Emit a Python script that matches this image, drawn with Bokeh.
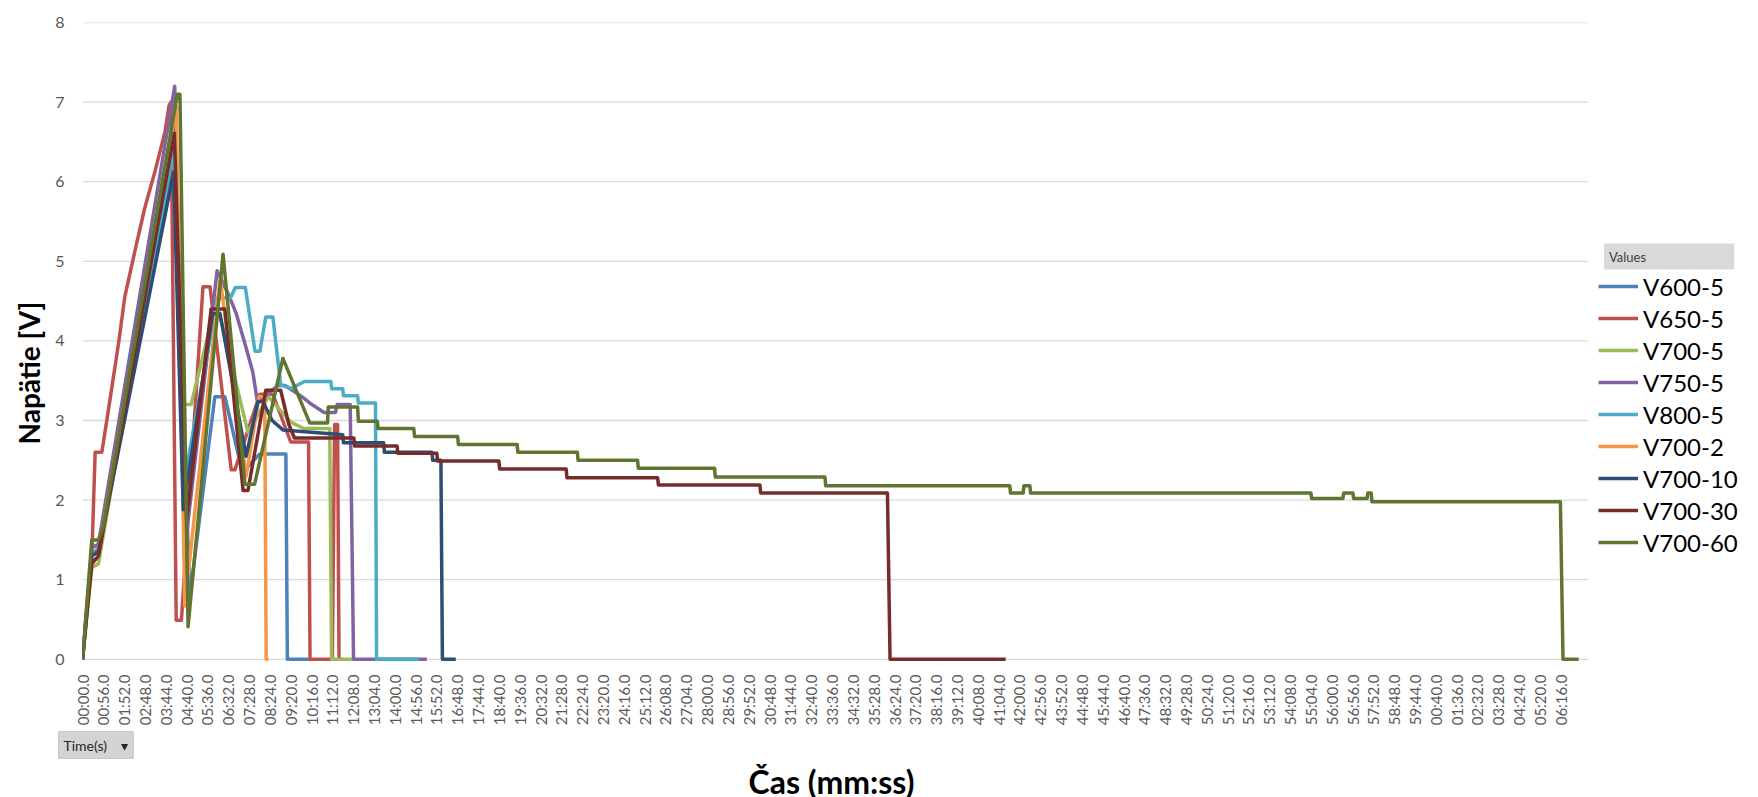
from bokeh.plotting import figure
from bokeh.models import Range1d, FixedTicker, Legend, LegendItem, Label, Title
from bokeh.embed import file_html
from bokeh.resources import INLINE

FONT = "Lato"

# ---------------- data (time in seconds, voltage in V) ----------------
series_names = ["V600-5", "V650-5", "V700-5", "V750-5", "V800-5",
                "V700-2", "V700-10", "V700-30", "V700-60"]
series_colors = ["#4F81BD", "#C0504D", "#9BBB59", "#8064A2", "#4BACC6",
                 "#F79646", "#2C4D75", "#772C2A", "#5F7530"]

t_v600_5 = [0, 25, 43, 245, 289, 356, 383, 430, 477, 547, 551, 612]
v_v600_5 = [0, 1.3, 1.4, 6.3, 0.8, 3.3, 3.3, 2.35, 2.58, 2.58, 0, 0]

t_v650_5 = [0, 25, 34, 52, 70, 97, 114, 141, 168, 195, 222, 233, 238, 252, 266,
            324, 343, 400, 410, 477, 512, 560, 608, 612, 672, 678, 686, 690, 700]
v_v650_5 = [0, 1.27, 2.6, 2.6, 3.14, 3.97, 4.56, 5.13, 5.68, 6.13, 6.63, 6.96, 7.0, 0.49, 0.49,
            4.68, 4.68, 2.38, 2.38, 3.33, 3.33, 2.73, 2.73, 0, 0, 2.95, 2.95, 0, 0]

t_v700_5 = [0, 25, 43, 250, 266, 292, 360, 445, 500, 560, 595, 665, 670, 729]
v_v700_5 = [0, 1.15, 1.2, 6.9, 3.2, 3.2, 4.5, 2.85, 3.3, 2.98, 2.9, 2.9, 0, 0]

t_v750_5 = [0, 25, 43, 248, 278, 362, 392, 413, 439, 458, 470, 490, 525, 545,
            590, 617, 650, 680, 685, 720, 729, 926]
v_v750_5 = [0, 1.4, 1.45, 7.2, 1.5, 4.88, 4.59, 4.35, 3.93, 3.61, 3.25, 3.3, 3.44, 3.44,
            3.3, 3.2, 3.1, 3.1, 3.2, 3.2, 0, 0]

t_v800_5 = [0, 25, 43, 245, 276, 363, 398, 411, 438, 464, 477, 493, 512, 533, 560,
            597, 668, 670, 700, 702, 740, 742, 788, 791, 904]
v_v800_5 = [0, 1.3, 1.35, 6.4, 2.3, 4.54, 4.54, 4.67, 4.67, 3.87, 3.87, 4.3, 4.3, 3.45, 3.4,
            3.49, 3.49, 3.4, 3.4, 3.31, 3.31, 3.22, 3.22, 0, 0]

t_v700_2 = [0, 25, 43, 252, 275, 370, 440, 475, 490, 494, 500]
v_v700_2 = [0, 1.3, 1.35, 6.95, 0.67, 4.79, 2.3, 3.3, 3.3, 0, 0]

t_v700_10 = [0, 25, 43, 245, 271, 350, 370, 440, 472, 485, 510, 540, 700, 702,
             810, 812, 940, 942, 964, 968, 1004]
v_v700_10 = [0, 1.3, 1.35, 6.12, 1.88, 4.34, 4.34, 2.55, 3.24, 3.24, 3.0, 2.88, 2.82, 2.72,
             2.72, 2.6, 2.6, 2.5, 2.5, 0, 0]

t_v700_30 = [0, 25, 43, 247, 280, 346, 383, 432, 445, 493, 533, 555, 570, 730, 732,
             846, 848, 953, 955, 1120, 1122, 1301, 1303, 1547, 1549, 1822, 1824,
             2165, 2172, 2483]
v_v700_30 = [0, 1.2, 1.3, 6.61, 1.75, 4.40, 4.40, 2.12, 2.12, 3.38, 3.38, 2.95, 2.78, 2.78, 2.68,
             2.68, 2.59, 2.59, 2.49, 2.49, 2.39, 2.39, 2.28, 2.28, 2.19, 2.19, 2.09,
             2.09, 0, 0]

t_v700_60 = [0, 25, 43, 55, 255, 262, 284, 378, 437, 463, 539, 611, 659, 661, 740, 742,
             793, 795, 891, 893, 1009, 1011, 1169, 1171, 1331, 1333, 1493, 1495,
             1700, 1702, 1997, 1999, 2494, 2496, 2530, 2532, 2548, 2550,
             3304, 3306, 3390, 3392, 3417, 3419, 3455, 3457, 3466, 3468,
             3975, 3982, 4024]
v_v700_60 = [0, 1.5, 1.5, 1.65, 7.1, 7.1, 0.41, 5.09, 2.2, 2.2, 3.78, 2.97, 2.97, 3.17, 3.17, 2.99,
             2.99, 2.9, 2.9, 2.8, 2.8, 2.7, 2.7, 2.6, 2.6, 2.5, 2.5, 2.4,
             2.4, 2.29, 2.29, 2.18, 2.18, 2.09, 2.09, 2.18, 2.18, 2.09,
             2.09, 2.02, 2.02, 2.09, 2.09, 2.02, 2.02, 2.09, 2.09, 1.98,
             1.98, 0, 0]

series_t = [t_v600_5, t_v650_5, t_v700_5, t_v750_5, t_v800_5,
            t_v700_2, t_v700_10, t_v700_30, t_v700_60]
series_v = [v_v600_5, v_v650_5, v_v700_5, v_v750_5, v_v800_5,
            v_v700_2, v_v700_10, v_v700_30, v_v700_60]

tick_step_s = 56
tick_labels = [
    "00:00.0", "00:56.0", "01:52.0", "02:48.0", "03:44.0", "04:40.0", "05:36.0", "06:32.0",
    "07:28.0", "08:24.0", "09:20.0", "10:16.0", "11:12.0", "12:08.0", "13:04.0", "14:00.0",
    "14:56.0", "15:52.0", "16:48.0", "17:44.0", "18:40.0", "19:36.0", "20:32.0", "21:28.0",
    "22:24.0", "23:20.0", "24:16.0", "25:12.0", "26:08.0", "27:04.0", "28:00.0", "28:56.0",
    "29:52.0", "30:48.0", "31:44.0", "32:40.0", "33:36.0", "34:32.0", "35:28.0", "36:24.0",
    "37:20.0", "38:16.0", "39:12.0", "40:08.0", "41:04.0", "42:00.0", "42:56.0", "43:52.0",
    "44:48.0", "45:44.0", "46:40.0", "47:36.0", "48:32.0", "49:28.0", "50:24.0", "51:20.0",
    "52:16.0", "53:12.0", "54:08.0", "55:04.0", "56:00.0", "56:56.0", "57:52.0", "58:48.0",
    "59:44.0", "00:40.0", "01:36.0", "02:32.0", "03:28.0", "04:24.0", "05:20.0", "06:16.0",
]
y_ticks = [0, 1, 2, 3, 4, 5, 6, 7, 8]

# ---------------- figure ----------------
PX_PER_S = 0.3718                 # plot-area scale
GRID_END = 4048                   # gridlines stop here (legend sits to the right)
FRAME_W = 1660
X_END = FRAME_W / PX_PER_S
FRAME_H = 640
Y0, Y1 = -0.04, 8.0

p = figure(output_backend="svg", toolbar_location=None,
           frame_width=FRAME_W, frame_height=FRAME_H,
           min_border_left=82, min_border_right=0, min_border_top=22, min_border_bottom=0,
           x_range=Range1d(0, X_END), y_range=Range1d(Y0, Y1),
           background_fill_color="white", border_fill_color="white")
p.outline_line_color = None
p.xgrid.grid_line_color = None
p.ygrid.grid_line_color = None

# horizontal gridlines at the y ticks, ending at the plot's right edge
p.segment(x0=[0] * len(y_ticks), y0=y_ticks, x1=[GRID_END] * len(y_ticks), y1=y_ticks,
          line_color="#D9D9D9", line_width=1.3)

tick_pos = [i * tick_step_s for i in range(len(tick_labels))]
p.xaxis.ticker = FixedTicker(ticks=tick_pos)
p.xaxis.major_label_overrides = {tp: lab for tp, lab in zip(tick_pos, tick_labels)}
p.xaxis.major_label_orientation = 1.5707963
p.yaxis.ticker = FixedTicker(ticks=y_ticks)

for ax in (p.xaxis[0], p.yaxis[0]):
    ax.axis_line_color = None
    ax.major_tick_line_color = None
    ax.minor_tick_line_color = None
    ax.major_label_text_color = "#595959"
    ax.major_label_text_font = FONT

p.xaxis.major_label_text_font_size = "15px"
p.yaxis.major_label_text_font_size = "16px"
p.xaxis.major_label_standoff = 6
p.yaxis.major_label_standoff = 12

items = []
for name, col, ts, vs in zip(series_names, series_colors, series_t, series_v):
    r = p.line(ts, vs, line_color=col, line_width=3.5, line_join="round")
    items.append(LegendItem(label=name, renderers=[r]))

legend = Legend(items=items, location=(1516, 104), orientation="vertical",
                label_text_font=FONT, label_text_font_size="24px", label_text_color="#000000",
                label_height=32, glyph_height=32, glyph_width=40, spacing=0,
                padding=0, margin=0, label_standoff=5,
                border_line_color=None, background_fill_alpha=0)
p.add_layout(legend)

values_lbl = Label(x=4092, y=5.06, text="Values" + "\u00a0" * 25,
                   text_font=FONT, text_font_size="13px", text_color="#3F3F3F",
                   text_baseline="middle", background_fill_color="#D9D9D9", padding=5)
p.add_layout(values_lbl)

# y-axis title (placed as a title so it can sit a little below the plot centre)
y_title = Title(text="Napätie [V]", align="left", offset=218, standoff=14,
                text_font=FONT, text_font_size="28px", text_font_style="bold",
                text_color="#000000")
p.add_layout(y_title, "left")

# below the axis: the pivot field button, then the axis title
time_btn = Title(text="Time(s)\u00a0\u00a0\u00a0\u00a0\u25BE", align="left", offset=-24,
                 standoff=2, text_font=FONT, text_font_size="14px", text_font_style="normal",
                 text_color="#262626", background_fill_color="#D4D4D4",
                 border_line_color="#C8C8C8", padding=5)
p.add_layout(time_btn, "below")
x_title = Title(text="Čas (mm:ss)", align="left", offset=666, standoff=0,
                text_font=FONT, text_font_size="32px", text_font_style="bold",
                text_color="#000000")
p.add_layout(x_title, "below")

open("out.html", "w").write(file_html(p, INLINE))
